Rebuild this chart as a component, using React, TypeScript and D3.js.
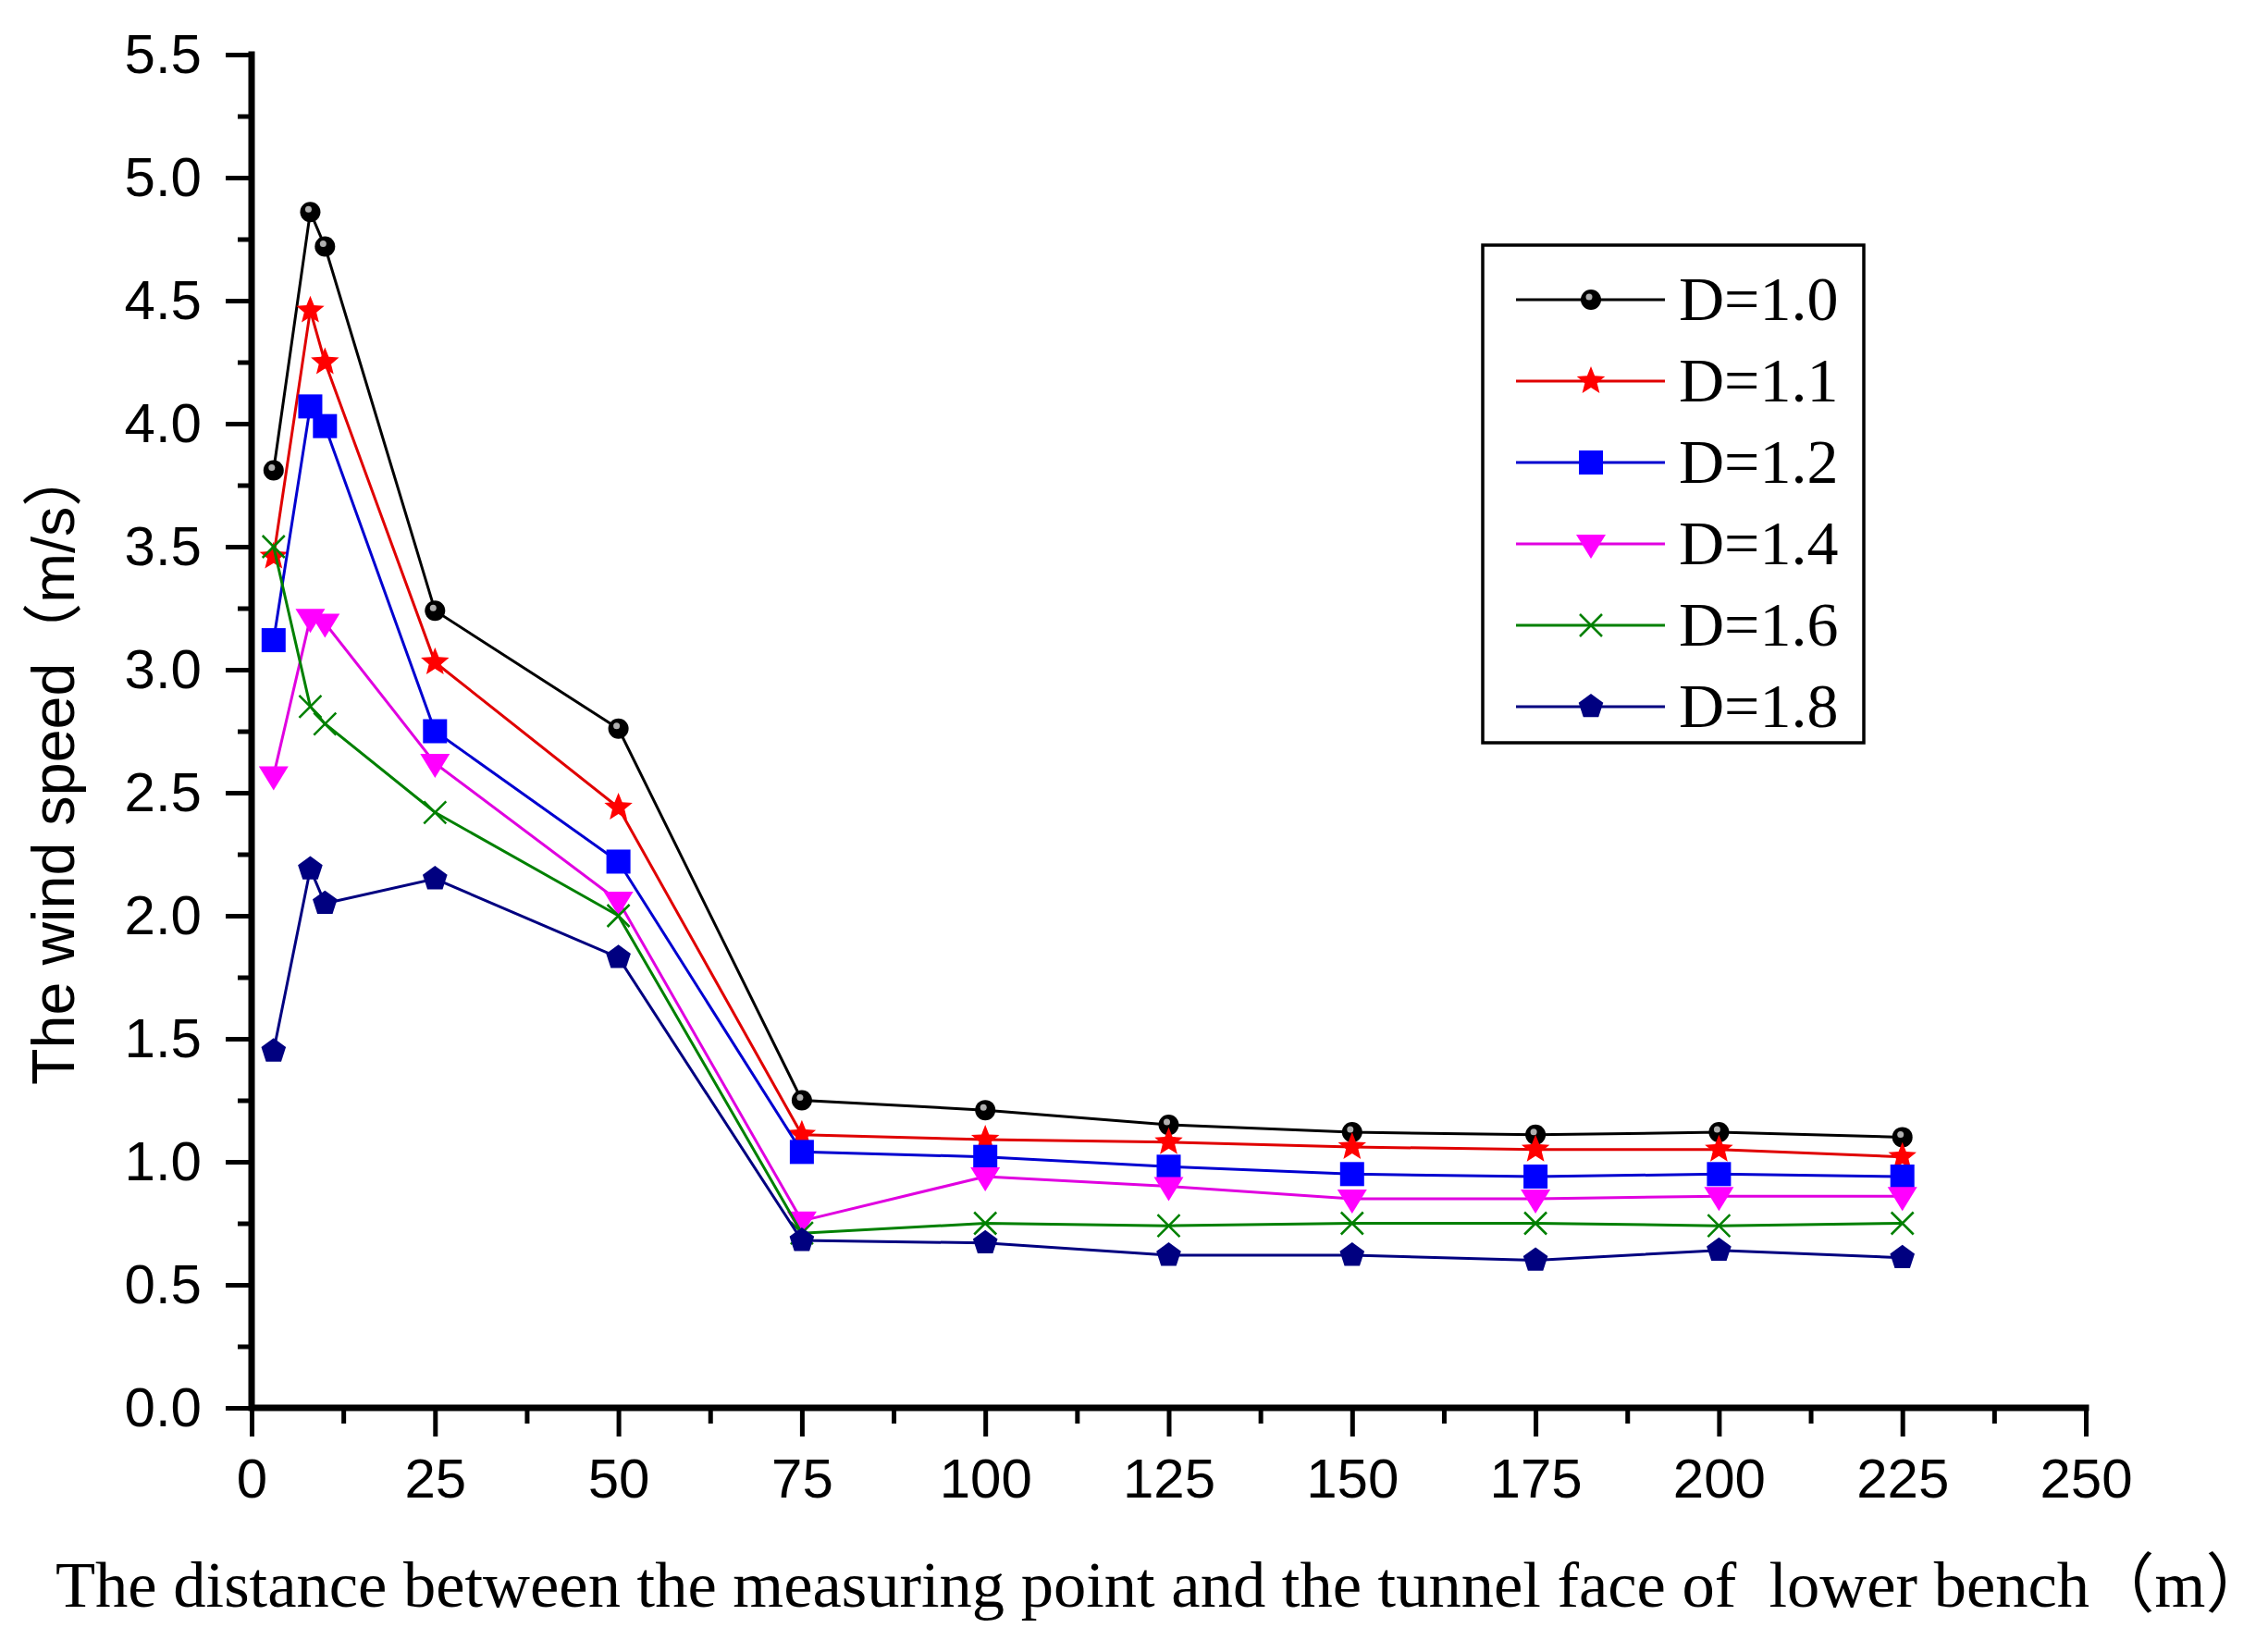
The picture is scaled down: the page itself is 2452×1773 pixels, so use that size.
import React, { useEffect, useRef } from "react"
import * as d3 from "d3"

// distance from the tunnel face (m)
const distances = [3, 8, 10, 25, 50, 75, 100, 125, 150, 175, 200, 225]

// wind speed (m/s) per duct diameter
const speedD10 = [3.81, 4.86, 4.72, 3.24, 2.76, 1.25, 1.21, 1.15, 1.12, 1.11, 1.12, 1.1]
const speedD11 = [3.46, 4.46, 4.25, 3.03, 2.44, 1.11, 1.09, 1.08, 1.06, 1.05, 1.05, 1.02]
const speedD12 = [3.12, 4.07, 3.99, 2.75, 2.22, 1.04, 1.02, 0.98, 0.95, 0.94, 0.95, 0.94]
const speedD14 = [2.57, 3.21, 3.19, 2.62, 2.06, 0.76, 0.94, 0.9, 0.85, 0.85, 0.86, 0.86]
const speedD16 = [3.5, 2.85, 2.78, 2.42, 2.0, 0.71, 0.75, 0.74, 0.75, 0.75, 0.74, 0.75]
const speedD18 = [1.45, 2.19, 2.05, 2.15, 1.83, 0.68, 0.67, 0.62, 0.62, 0.6, 0.64, 0.61]

const seriesLabels = ["D=1.0", "D=1.1", "D=1.2", "D=1.4", "D=1.6", "D=1.8"]
const xTicks = [0, 25, 50, 75, 100, 125, 150, 175, 200, 225, 250]
const yTicks = [0, 0.5, 1, 1.5, 2, 2.5, 3, 3.5, 4, 4.5, 5, 5.5]

const width = 2452
const height = 1773

const lineColors = ["#000000", "#e00000", "#0000d0", "#e000e0", "#008000", "#000080"]
const markColors = ["#000000", "#ff0000", "#0000ff", "#ff00ff", "#008000", "#000080"]
const shapes = ["circle", "star", "square", "triDown", "cross", "pentagon"]

const polygon = (cx: number, cy: number, n: number, r: number, r2?: number) => {
  const pts: string[] = []
  const count = r2 ? n * 2 : n
  for (let i = 0; i < count; i++) {
    const a = -Math.PI / 2 + (i * 2 * Math.PI) / count
    const rr = r2 && i % 2 === 1 ? r2 : r
    pts.push(`${cx + rr * Math.cos(a)},${cy + rr * Math.sin(a)}`)
  }
  return "M" + pts.join("L") + "Z"
}

const drawMarker = (g: any, shape: string, cx: number, cy: number, color: string) => {
  if (shape === "circle") {
    g.append("circle").attr("cx", cx).attr("cy", cy).attr("r", 11).attr("fill", color)
    g.append("circle").attr("cx", cx - 2).attr("cy", cy - 3).attr("r", 3.5).attr("fill", "#b0b0b0")
  } else if (shape === "star") {
    g.append("path").attr("d", polygon(cx, cy, 5, 16, 7)).attr("fill", color)
  } else if (shape === "square") {
    g.append("rect").attr("x", cx - 13).attr("y", cy - 13).attr("width", 26).attr("height", 26).attr("fill", color)
  } else if (shape === "triDown") {
    g.append("path")
      .attr("d", `M${cx - 16},${cy - 10}L${cx + 16},${cy - 10}L${cx},${cy + 16}Z`)
      .attr("fill", color)
  } else if (shape === "cross") {
    g.append("path")
      .attr("d", `M${cx - 12},${cy - 12}L${cx + 12},${cy + 12}M${cx - 12},${cy + 12}L${cx + 12},${cy - 12}`)
      .attr("stroke", color)
      .attr("stroke-width", 2.5)
      .attr("fill", "none")
  } else {
    g.append("path").attr("d", polygon(cx, cy, 5, 14)).attr("fill", color)
  }
}

export default function App() {
  const ref = useRef<SVGSVGElement>(null)

  useEffect(() => {
    const svg = d3.select(ref.current)
    svg.selectAll("*").remove()

    const x = d3.scaleLinear().domain([0, 250]).range([272, 2255])
    const y = d3.scaleLinear().domain([0, 5.5]).range([1522, 59])

    const allSeries = [speedD10, speedD11, speedD12, speedD14, speedD16, speedD18]

    // minor ticks
    const xMinor = svg
      .append("g")
      .attr("transform", `translate(0,${y(0)})`)
      .call(d3.axisBottom(x).tickValues(d3.range(12.5, 250, 25)).tickSize(17).tickSizeOuter(0).tickFormat(() => ""))
    const yMinor = svg
      .append("g")
      .attr("transform", `translate(${x(0)},0)`)
      .call(d3.axisLeft(y).tickValues(d3.range(0.25, 5.5, 0.5)).tickSize(15).tickSizeOuter(0).tickFormat(() => ""))
    ;[xMinor, yMinor].forEach((a) => {
      a.select(".domain").remove()
      a.selectAll("line").attr("stroke-width", 5)
    })

    // major ticks
    const xAxis = svg
      .append("g")
      .attr("transform", `translate(0,${y(0)})`)
      .call(d3.axisBottom(x).tickValues(xTicks).tickSize(31).tickPadding(23).tickSizeOuter(0).tickFormat(d3.format("d")))
    const yAxis = svg
      .append("g")
      .attr("transform", `translate(${x(0)},0)`)
      .call(d3.axisLeft(y).tickValues(yTicks).tickSize(28).tickPadding(26).tickSizeOuter(0).tickFormat(d3.format(".1f")))
    ;[xAxis, yAxis].forEach((a) => {
      a.select(".domain").remove()
      a.selectAll("line").attr("stroke-width", 5)
      a.selectAll("text")
        .attr("font-family", "'Liberation Sans', Arial, sans-serif")
        .attr("font-size", 60)
        .attr("fill", "#000")
    })

    // axis lines
    svg
      .append("path")
      .attr("d", `M${x(0)},${y(5.5)}V${y(0)}H${x(250)}`)
      .attr("fill", "none")
      .attr("stroke", "#000")
      .attr("stroke-width", 7)
      .attr("stroke-linecap", "square")

    // series
    const line = d3
      .line<number>()
      .x((_, i) => x(distances[i]))
      .y((d) => y(d))

    allSeries.forEach((vals, s) => {
      const g = svg.append("g")
      g.append("path")
        .attr("d", line(vals))
        .attr("fill", "none")
        .attr("stroke", lineColors[s])
        .attr("stroke-width", 3)
      vals.forEach((v, i) => drawMarker(g, shapes[s], x(distances[i]), y(v), markColors[s]))
    })

    // legend
    const legend = svg.append("g")
    legend
      .append("rect")
      .attr("x", 1603)
      .attr("y", 265)
      .attr("width", 412)
      .attr("height", 538)
      .attr("fill", "#fff")
      .attr("stroke", "#000")
      .attr("stroke-width", 3.5)
    seriesLabels.forEach((label, s) => {
      const ry = 324 + s * 88
      legend
        .append("line")
        .attr("x1", 1639)
        .attr("x2", 1800)
        .attr("y1", ry)
        .attr("y2", ry)
        .attr("stroke", lineColors[s])
        .attr("stroke-width", 3)
      drawMarker(legend, shapes[s], 1720, ry, markColors[s])
      legend
        .append("text")
        .attr("x", 1815)
        .attr("y", ry)
        .attr("dy", "0.32em")
        .attr("font-family", "'Liberation Serif', 'Times New Roman', serif")
        .attr("font-size", 68)
        .attr("fill", "#000")
        .text(label)
    })

    // axis titles
    svg
      .append("text")
      .attr("transform", "translate(80,828) rotate(-90)")
      .attr("text-anchor", "middle")
      .attr("textLength", 690)
      .attr("lengthAdjust", "spacingAndGlyphs")
      .attr("font-family", "'Liberation Sans', Arial, 'Noto Sans CJK SC', sans-serif")
      .attr("font-size", 65)
      .attr("fill", "#000")
      .text("The wind speed（m/s）")

    svg
      .append("text")
      .attr("x", 60)
      .attr("y", 1737)
      .attr("textLength", 2395)
      .attr("lengthAdjust", "spacingAndGlyphs")
      .style("white-space", "pre")
      .attr("font-family", "'Liberation Serif', 'Times New Roman', 'Noto Sans CJK SC', serif")
      .attr("font-size", 70)
      .attr("fill", "#000")
      .text("The distance between the measuring point and the tunnel face of  lower bench（m）")
  }, [])

  return (
    <div style={{ position: "absolute", left: 0, top: 0 }}>
      <svg ref={ref} width={width} height={height} style={{ display: "block", background: "#fff" }} />
    </div>
  )
}
